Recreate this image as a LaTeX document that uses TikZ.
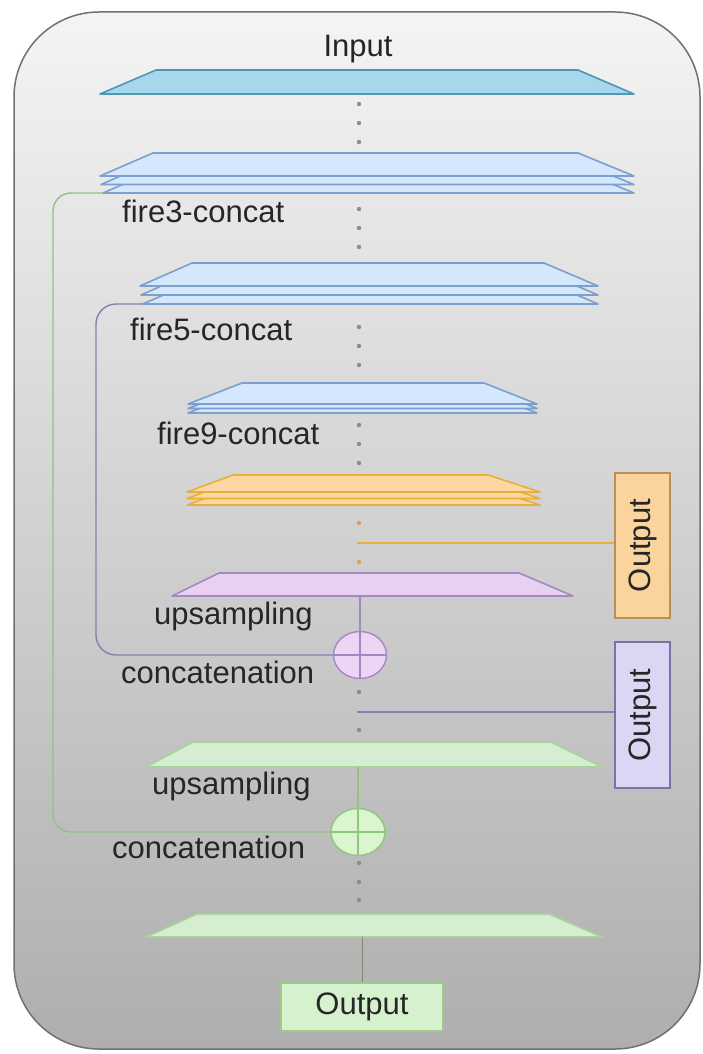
\documentclass[tikz,border=0pt]{standalone}
\usepackage{fontspec}
\setmainfont{Liberation Sans}
\usetikzlibrary{shapes.geometric}

\definecolor{bgtop}{HTML}{F4F4F4}
\definecolor{bgbot}{HTML}{AEAEAE}
\definecolor{bgedge}{HTML}{707070}
\definecolor{txt}{HTML}{262626}
\definecolor{dotc}{HTML}{8C8C8C}
\definecolor{cyanfill}{HTML}{A6D7EC}
\definecolor{cyandraw}{HTML}{4F97B3}
\definecolor{bluefill}{HTML}{D5E7FC}
\definecolor{bluedraw}{HTML}{7D9FCB}
\definecolor{orfill}{HTML}{FCD7A4}
\definecolor{ordraw}{HTML}{E7B03A}
\definecolor{orbox}{HTML}{FBD39D}
\definecolor{orboxdraw}{HTML}{B89060}
\definecolor{ordot}{HTML}{D9A74A}
\definecolor{puflll}{HTML}{E8D0F0}
\definecolor{pudraw}{HTML}{A289C2}
\definecolor{pucirc}{HTML}{EDD6F5}
\definecolor{pubox}{HTML}{DCD6F4}
\definecolor{puboxdraw}{HTML}{7C72AA}
\definecolor{puline}{HTML}{8D7BB5}
\definecolor{grfill}{HTML}{D5EDD0}
\definecolor{grdraw}{HTML}{A8D49A}
\definecolor{grcirc}{HTML}{DBF5CF}
\definecolor{grcircdraw}{HTML}{8EC77C}
\definecolor{grbox}{HTML}{D6F1CD}
\definecolor{grboxdraw}{HTML}{9ACB8A}
\definecolor{grline}{HTML}{90C47E}
\definecolor{stemc}{HTML}{7C8A74}

% one trapezoidal feature layer:
% #1 name, #2 style, #3/#4 left/right x of the long (bottom) edge,
% #5 y of the bottom edge, #6 height, #7/#8 left/right slant insets
\newcommand\tlayer[8]{%
  \path[#2] (#3,#5) -- ({#3+#7},{#5-#6}) -- ({#4-#8},{#5-#6}) -- (#4,#5) -- cycle;
  \coordinate (#1-bl) at (#3,#5);
  \coordinate (#1-b) at ({(#3+#4)/2},#5);}

\begin{document}
\begin{tikzpicture}[x=1pt,y=-1pt,
  every node/.style={font=\fontsize{31}{36}\selectfont, text=txt},
  trap/.style={line width=1.6pt, line join=round},
  cyanlayer/.style={trap, fill=cyanfill, draw=cyandraw},
  bluelayer/.style={trap, fill=bluefill, draw=bluedraw},
  orlayer/.style={trap, fill=orfill, draw=ordraw},
  pulayer/.style={trap, fill=puflll, draw=pudraw},
  grlayer/.style={trap, fill=grfill, draw=grdraw},
  txtlab/.style={anchor=base west, inner sep=0pt},
  joint/.style={ellipse, inner sep=0pt, line width=1.4pt, minimum width=53pt, minimum height=47pt,
    path picture={\draw[line width=1.2pt, #1]
      (path picture bounding box.north) -- (path picture bounding box.south)
      (path picture bounding box.west) -- (path picture bounding box.east);}},
  outbox/.style={draw, line width=1.4pt, inner sep=0pt},
  dotmark/.style={fill=dotc},
]
\useasboundingbox (0,0) rectangle (702,1054);

% framed panel with vertical grey gradient
\path[draw=bgedge, line width=1.5pt, rounded corners=85pt, top color=bgtop, bottom color=bgbot]
  (14,12) rectangle (700,1049);

% input layer
\node (intext) at (358,57) [txtlab, anchor=base] {Input};
\tlayer{in}{cyanlayer}{100}{634}{94}{24}{56}{56}

\foreach \y in {104,123,142} \fill[dotmark] (359,\y) circle (2.2pt);

% fire3 stack
\tlayer{f3c}{bluelayer}{103}{634}{193}{23}{53}{56}
\tlayer{f3b}{bluelayer}{101}{634}{184.5}{23}{53}{56}
\tlayer{f3}{bluelayer}{100}{634}{176}{23}{53}{56}
\node (t3) at (122,222) [txtlab] {fire3-concat};
\foreach \y in {209,228,247} \fill[dotmark] (359,\y) circle (2.2pt);

% fire5 stack
\tlayer{f5c}{bluelayer}{143}{598}{304}{23}{52}{54}
\tlayer{f5b}{bluelayer}{141}{598}{295}{23}{52}{54}
\tlayer{f5}{bluelayer}{140}{598}{286}{23}{52}{54}
\node (t5) at (130,340) [txtlab] {fire5-concat};
\foreach \y in {327,346,365} \fill[dotmark] (359,\y) circle (2.2pt);

% fire9 stack
\tlayer{f9c}{bluelayer}{188}{537}{413}{21}{54}{53}
\tlayer{f9b}{bluelayer}{188}{537}{408.5}{21}{54}{53}
\tlayer{f9}{bluelayer}{188}{537}{404}{21}{54}{53}
\node (t9) at (157,444) [txtlab] {fire9-concat};
\foreach \y in {425,444,463} \fill[dotmark] (359,\y) circle (2.2pt);

% coarse prediction stack
\tlayer{orc}{orlayer}{187}{540}{505}{17}{46}{52}
\tlayer{orb}{orlayer}{187}{540}{498.5}{17}{46}{52}
\tlayer{ora}{orlayer}{187}{540}{492}{17}{46}{52}
\foreach \y in {523,562} \fill[ordot] (359,\y) circle (2.2pt);
\node (ob) at (642.5,545.5) [outbox, draw=orboxdraw, fill=orbox, rotate=90,
  minimum width=145pt, minimum height=55pt] {Output};
\coordinate (oj) at (357,543);
\draw[ordraw, line width=1.6pt] (oj) -- (oj -| ob.north);

% first upsampling + concatenation
\tlayer{pu}{pulayer}{172}{573}{596}{23}{47}{54}
\node (tpu) at (154,624) [txtlab] {upsampling};
\node (pc) at (360,655) [joint=pudraw, draw=pudraw, fill=pucirc] {};
\draw[pudraw, line width=1.2pt] (pc |- pu-b) -- (pc.north);
\node (tpc) at (121,683) [txtlab] {concatenation};
\coordinate (pbend) at (96,655);
\draw[puline, line width=1.4pt, rounded corners=20pt] (f5c-bl) -| (pbend) -- (pc.west);

\foreach \y in {692,730} \fill[dotmark] (359,\y) circle (2.2pt);
\node (pb) at (642.5,715) [outbox, draw=puboxdraw, fill=pubox, rotate=90,
  minimum width=146pt, minimum height=55pt] {Output};
\coordinate (pj) at (357,712);
\draw[puline, line width=1.4pt] (pj) -- (pj -| pb.north);

% second upsampling + concatenation
\tlayer{gu}{grlayer}{146}{602}{767}{25}{47}{51}
\node (tgu) at (152,794) [txtlab] {upsampling};
\node (gc) at (358,832) [joint=grcircdraw, draw=grcircdraw, fill=grcirc, minimum width=54pt] {};
\draw[grcircdraw, line width=1.2pt] (gc |- gu-b) -- (gc.north);
\node (tgc) at (112,858) [txtlab] {concatenation};
\coordinate (gbend) at (53,832);
\draw[grline, line width=1.4pt, rounded corners=18pt] (f3c-bl) -| (gbend) -- (gc.west);

\foreach \y in {863,882,900} \fill[dotmark] (359,\y) circle (2.2pt);

% final layer and output
\tlayer{gf}{grlayer}{146}{602}{937}{23}{51}{53}
\node (gb) at (362,1007) [outbox, draw=grboxdraw, fill=grbox,
  minimum width=162pt, minimum height=48pt] {Output};
\draw[stemc, line width=1pt] (gb |- gf-b) -- (gb.north);
\end{tikzpicture}
\end{document}
